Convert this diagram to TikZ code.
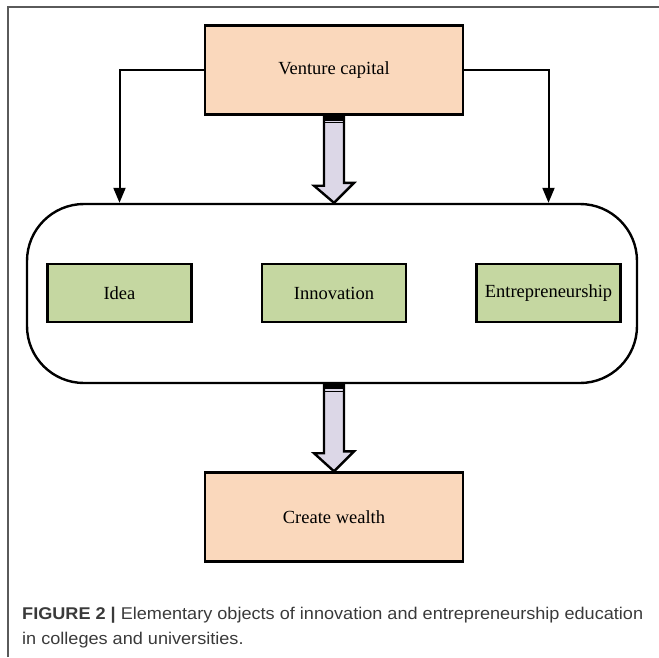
\documentclass[tikz,border=0pt]{standalone}
\usepackage{fontspec}
\setmainfont{Liberation Serif}
\newfontfamily\capfont[FakeStretch=1.065]{Liberation Sans}
\usetikzlibrary{arrows.meta}
\definecolor{peach}{HTML}{FAD8BC}
\definecolor{leaf}{HTML}{C5D7A1}
\definecolor{lilac}{HTML}{DCD7E7}
\definecolor{captext}{HTML}{3A3A3A}
\definecolor{framegray}{HTML}{5A5A5A}
\tikzset{
  bigbox/.style={draw=black, line width=2.4pt, fill=peach, minimum width=258pt, minimum height=89pt, inner sep=0pt, font=\fontsize{18.5}{20}\selectfont},
  smallbox/.style={draw=black, line width=2.4pt, fill=leaf, minimum width=144pt, minimum height=58pt, inner sep=0pt, font=\fontsize{18.5}{20}\selectfont},
  holder/.style={draw=black, line width=2.4pt, rounded corners=57pt, minimum width=610pt, minimum height=179pt, inner sep=0pt},
  link/.style={draw=black, line width=2pt, -{Triangle[length=15pt,width=12pt]}},
  fatarrow/.style={draw=black, line width=2.4pt, fill=lilac, line join=miter},
  captionline/.style={anchor=base west, inner sep=0pt, text=captext, font=\capfont\fontsize{17}{25}\selectfont},
}
\begin{document}
\begin{tikzpicture}[x=1pt, y=-1pt]
  \useasboundingbox (0,0) rectangle (659,657);
  % page frame (top and left rules only)
  \draw[framegray, line width=1.2pt] (8,657) -- (8,7) -- (659,7);

  % nodes
  \node[bigbox] (venture) at (334,70) {Venture capital};
  \node[holder] (group) at (332,293.5) {};
  \node[smallbox] (idea) at (119.5,293) {Idea};
  \node[smallbox] (innov) at (334,293) {Innovation};
  \node[smallbox] (entre) at (548.5,293) {Entrepreneurship};
  \node[bigbox] (wealth) at (334,517) {Create wealth};

  % side connectors
  \draw[link] (venture.west) -| (idea.north |- group.north);
  \draw[link] (venture.east) -| (entre.north |- group.north);

  % broad arrow from venture capital to the group
  \draw[fatarrow] ([xshift=-10pt]venture.south) -- ++(0,70) -- ++(-10,0)
    -- (venture.south |- group.north) -- ++(20,-20) -- ++(-10,0)
    -- ([xshift=10pt]venture.south) -- cycle;
  \fill[black] ([xshift=-10pt]venture.south) rectangle ++(20,5);
  \draw[black, line width=1pt] ([xshift=-10pt,yshift=-7pt]venture.south) -- ++(20,0);

  % broad arrow from the group to wealth
  \draw[fatarrow] ([xshift=-10pt]venture.south |- group.south) -- ++(0,69) -- ++(-10,0)
    -- (wealth.north) -- ++(20,-20) -- ++(-10,0)
    -- ([xshift=10pt]venture.south |- group.south) -- cycle;
  \fill[black] ([xshift=-10pt]venture.south |- group.south) rectangle ++(20,5);
  \draw[black, line width=1pt] ([xshift=-10pt,yshift=-7pt]venture.south |- group.south) -- ++(20,0);

  % caption
  \node[captionline] (cap1) at (22,619)
    {\textbf{FIGURE 2 |} Elementary objects of innovation and entrepreneurship education};
  \node[captionline] (cap2) at (22,644) {in colleges and universities.};
\end{tikzpicture}
\end{document}
